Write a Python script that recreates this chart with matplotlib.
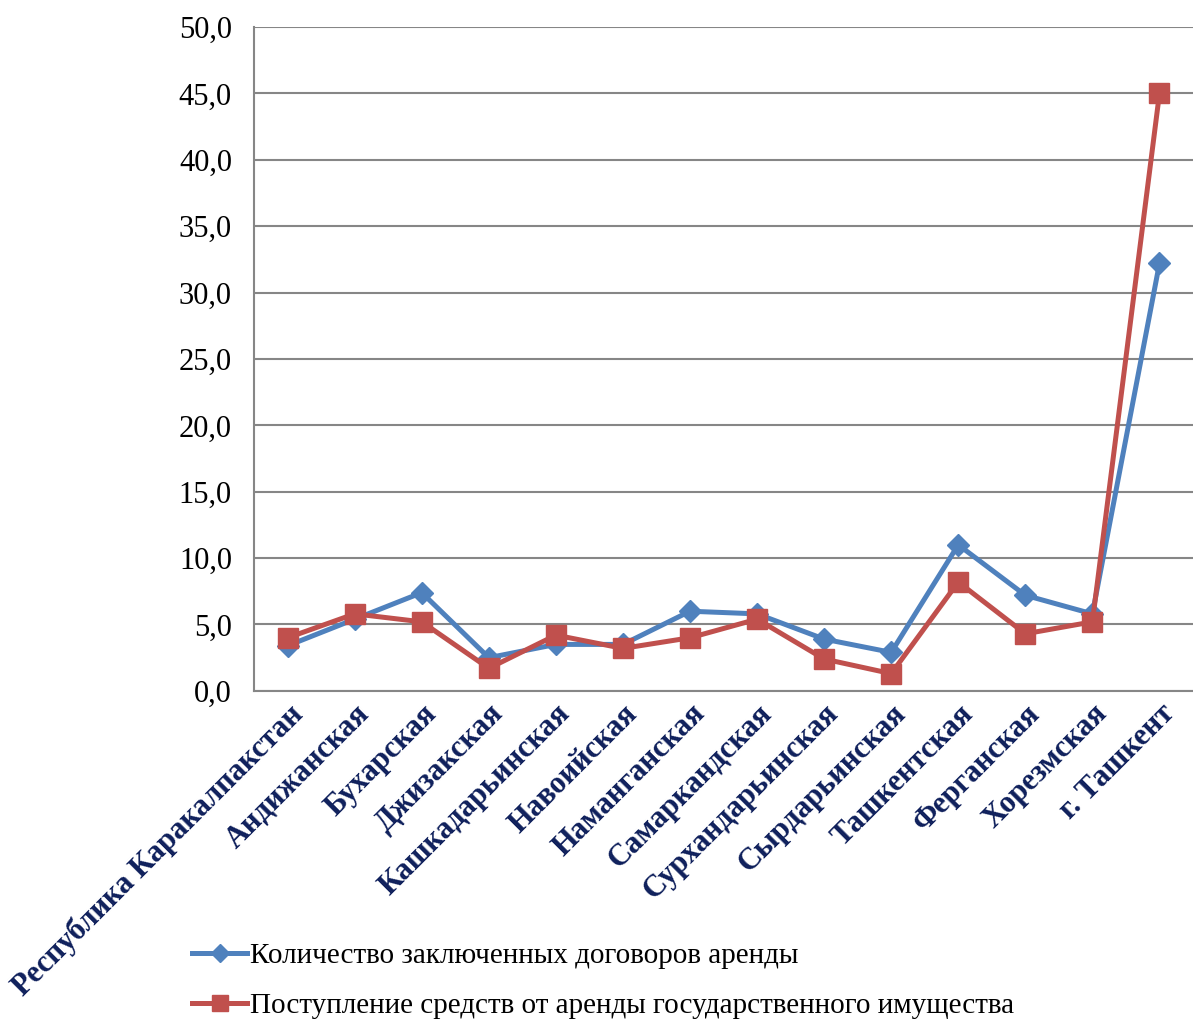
import matplotlib
matplotlib.use("Agg")
import matplotlib.pyplot as plt
import numpy as np

# Regions (x categories)
regions = [
    "Республика Каракалпакстан",
    "Андижанская",
    "Бухарская",
    "Джизакская",
    "Кашкадарьинская",
    "Навоийская",
    "Наманганская",
    "Самаркандская",
    "Сурхандарьинская",
    "Сырдарьинская",
    "Ташкентская",
    "Ферганская",
    "Хорезмская",
    "г. Ташкент",
]

# Share, %
contracts = [3.4, 5.4, 7.4, 2.5, 3.5, 3.5, 6.0, 5.8, 3.9, 2.9, 11.0, 7.2, 5.8, 32.2]
revenue = [4.0, 5.8, 5.2, 1.7, 4.2, 3.2, 4.0, 5.4, 2.4, 1.3, 8.2, 4.3, 5.2, 45.0]

series_names = [
    "Количество заключенных договоров аренды",
    "Поступление средств от аренды государственного имущества",
]
yticks = np.arange(0, 50.1, 5)

plt.rcParams["font.family"] = ["Liberation Serif", "DejaVu Serif"]

fig = plt.figure(figsize=(11.93, 10.19), dpi=100)
ax = fig.add_axes([0.213, 0.322, 0.787, 0.6515])

x = np.arange(len(regions))
ax.plot(x, contracts, color="#4F81BD", lw=3.6, marker="D", ms=11.5,
        label=series_names[0], zorder=3)
ax.plot(x, revenue, color="#C0504D", lw=3.6, marker="s", ms=14.5,
        label=series_names[1], zorder=4)

ax.set_xlim(-0.5, len(regions) - 0.5)
ax.set_ylim(0, 50)
ax.set_yticks(yticks)
ax.set_yticklabels([f"{v:.1f}".replace(".", ",") for v in yticks], fontsize=22)
ax.yaxis.grid(True, color="#868686", lw=1.5)
ax.set_axisbelow(True)
ax.tick_params(axis="y", length=0, pad=16)
ax.tick_params(axis="x", length=0, pad=6)

ax.set_xticks(x)
ax.set_xticklabels(regions, rotation=45, ha="right", va="top",
                   rotation_mode="anchor", fontsize=22, fontweight="bold",
                   color="#0E1F5B")

for side in ["top", "right"]:
    ax.spines[side].set_visible(False)
for side in ["left", "bottom"]:
    ax.spines[side].set_color("#868686")
    ax.spines[side].set_linewidth(1.5)

leg = fig.legend(loc="upper left", bbox_to_anchor=(0.161, 0.075),
                 frameon=False, fontsize=21, handlelength=1.9,
                 handletextpad=0.1, labelspacing=0.8, borderaxespad=0,
                 borderpad=0, markerscale=0.8)

fig.savefig("out.png", dpi=100)
